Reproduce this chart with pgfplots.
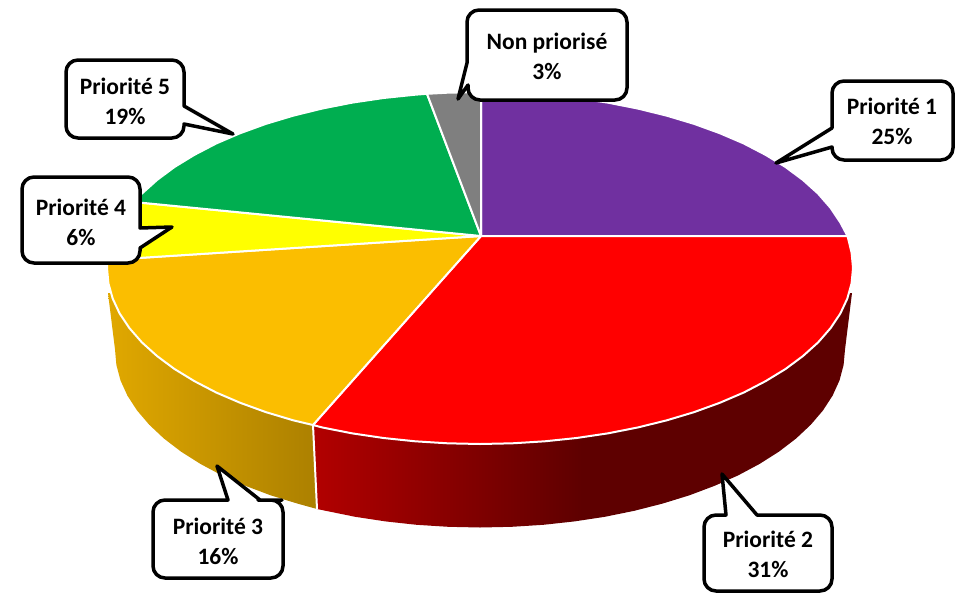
\documentclass[border=0pt]{standalone}
\usepackage{fontspec}
\setmainfont{Carlito}
\usepackage{pgfplots}
\pgfplotsset{compat=1.18}
\usepackage{xcolor}

\definecolor{violet1}{HTML}{7030A0}
\definecolor{rouge2}{RGB}{255,0,0}
\definecolor{jaune3}{HTML}{FBBE00}
\definecolor{jaune4}{RGB}{255,255,0}
\definecolor{vert5}{HTML}{00AE50}
\definecolor{gris0}{HTML}{7F7F7F}
\definecolor{rougeA}{RGB}{178,0,0}
\definecolor{rougeB}{RGB}{94,0,0}
\definecolor{ocreA}{RGB}{224,168,0}
\definecolor{ocreB}{RGB}{172,128,0}

\begin{document}
\begin{tikzpicture}[
    lab/.style={font=\fontsize{23.5}{30}\selectfont\bfseries, align=center, text=black, inner sep=0pt},
    bulle/.style={draw=black, fill=white, line width=3.5pt, line join=round, rounded corners=12pt},
    tranche/.style={draw=white, line width=2pt, line join=round},
]
\path[use as bounding box] (0,0) rectangle (961pt,592pt);
\begin{axis}[
    scale only axis,
    width=961pt, height=592pt,
    xmin=0, xmax=961,
    ymin=0, ymax=592,
    y dir=reverse,
    enlargelimits=false,
    hide axis,
    no markers,
    clip=false,
]

% side of the disc
\addplot[draw=none, left color=rougeA, right color=rougeB, middle color=rougeB] coordinates {
(852,293)(845,349.5)(843.6,365)(839.5,380.4)(832.6,395.6)(823,410.4)(810.8,424.7)(796.1,438.5)
(779,451.6)(759.6,463.9)(738.1,475.4)(714.6,485.8)(689.4,495.3)(662.5,503.6)(634.3,510.8)
(604.8,516.8)(574.5,521.4)(543.4,524.8)(511.8,526.8)(480,527.5)(448.2,526.8)(416.6,524.8)
(385.5,521.4)(355.2,516.8)(325.7,510.8)(317,509)(313,425)(480,300)(852,293)
};
\addplot[draw=none, left color=ocreA, right color=ocreB] coordinates {
(313,425)(317,509)(297.5,503.6)(270.6,495.3)(245.4,485.8)(221.9,475.4)(200.4,463.9)(181,451.6)
(163.9,438.5)(149.2,424.7)(137,410.4)(127.4,395.6)(120.5,380.4)(116.4,365)(115,349.5)(108,293)
(300,300)(313,425)
};
\addplot[white, line width=2pt] coordinates {(313,425)(317,509)};

% top face
% Priorite 1
\addplot[tranche, fill=violet1] coordinates {
(481,236)(481,92)(512.5,92.7)(544.8,94.7)(576.5,98)(607.6,102.6)(637.6,108.5)(666.5,115.6)
(693.9,123.8)(719.8,133.2)(743.8,143.5)(765.7,154.9)(785.5,167)(803,180)(818.1,193.6)
(830.5,207.8)(840.3,222.4)(847.5,236)(481,236)
};
% Priorite 2
\addplot[tranche, fill=rouge2] coordinates {
(481,236)(847.5,236)(851.6,252.7)(853,268)(851.6,283.3)(847.3,298.6)(840.3,313.6)(830.5,328.2)
(818.1,342.4)(803,356)(785.5,369)(765.7,381.1)(743.8,392.5)(719.8,402.8)(693.9,412.2)
(666.5,420.4)(637.6,427.5)(607.6,433.4)(576.5,438)(544.8,441.3)(512.5,443.3)(480,444)
(447.5,443.3)(415.2,441.3)(383.5,438)(352.4,433.4)(322.4,427.5)(313,425)(481,236)
};
% Priorite 3
\addplot[tranche, fill=jaune3] coordinates {
(481,236)(313,425)(293.5,420.4)(266.1,412.2)(240.2,402.8)(216.2,392.5)(194.3,381.1)(174.5,369)
(157,356)(141.9,342.4)(129.5,328.2)(119.7,313.6)(112.7,298.6)(108.4,283.3)(107,268)(107.2,260)
(481,236)
};
% Priorite 4
\addplot[tranche, fill=jaune4] coordinates {
(481,236)(107.2,260)(108.4,252.7)(112.7,237.4)(119.7,222.4)(129.5,207.8)(134,202)(481,236)
};
% Priorite 5
\addplot[tranche, fill=vert5] coordinates {
(481,236)(134,202)(141.9,193.6)(157,180)(174.5,167)(194.3,154.9)(216.2,143.5)(240.2,133.2)
(266.1,123.8)(293.5,115.6)(322.4,108.5)(352.4,102.6)(383.5,98)(415.2,94.7)(427,93.8)(481,236)
};
% Non priorise
\addplot[tranche, fill=gris0] coordinates {
(481,236)(427,93.8)(447.5,92.7)(481,92)(481,236)
};

% callouts
\draw[bulle] (900,81) -- (953,81) -- (953,160) -- (832,160) [sharp corners] -- (832,147) -- (776,163) -- (832,128) [rounded corners=12pt] -- (832,81) -- cycle;
\node[lab] at (892,121) {Priorité 1\\25\%};

\draw[bulle] (770,515) -- (832,515) -- (832,591) -- (704,591) -- (704,515) [sharp corners] -- (726,515) -- (722,474) -- (757,515) [rounded corners=12pt] -- cycle;
\node[lab] at (768,554) {Priorité 2\\31\%};

\draw[bulle] (270,500) -- (283,500) -- (283,578) -- (153,578) -- (153,500) [sharp corners] -- (228,500) -- (217,466) -- (260,500) [rounded corners=12pt] -- cycle;
\node[lab] at (218,541) {Priorité 3\\16\%};

\draw[bulle] (80,177) -- (140,177) [sharp corners] -- (140,228) -- (172,227) -- (140,248) [rounded corners=12pt] -- (140,263) -- (22,263) -- (22,177) -- cycle;
\node[lab] at (81,222) {Priorité 4\\6\%};

\draw[bulle] (120,60) -- (184,60) [sharp corners] -- (184,106) -- (233,134) -- (184,124) [rounded corners=12pt] -- (184,138) -- (66,138) -- (66,60) -- cycle;
\node[lab] at (125,101) {Priorité 5\\19\%};

\draw[bulle] (540,10) -- (627,10) -- (627,100) -- (468,100) [sharp corners] -- (468,85) -- (458,99) -- (467,63) [rounded corners=12pt] -- (467,10) -- cycle;
\node[lab] at (547,56) {Non priorisé\\3\%};

\end{axis}
\end{tikzpicture}
\end{document}
